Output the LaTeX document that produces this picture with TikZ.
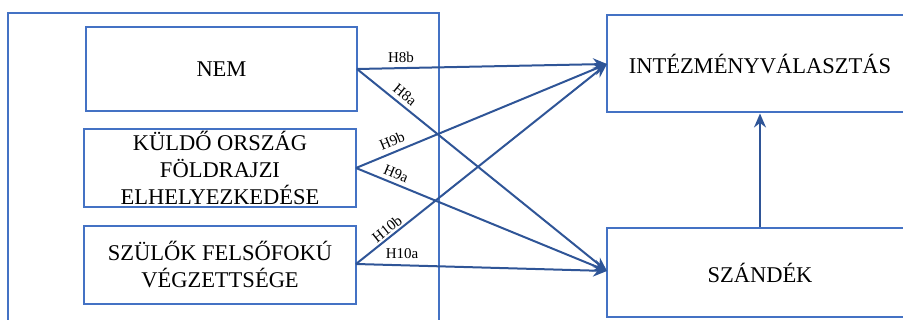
\documentclass[tikz,border=0pt]{standalone}
\usepackage{fontspec}
\setmainfont{Liberation Serif}
\usetikzlibrary{arrows.meta}
\definecolor{boxblue}{HTML}{4472C4}
\definecolor{arrblue}{HTML}{2F5597}
\begin{document}
\begin{tikzpicture}[x=1pt,y=-1pt,
  box/.style={draw=boxblue,line width=2pt,inner sep=0pt,align=center,font=\fontsize{22.5}{27}\selectfont},
  arr/.style={draw=arrblue,line width=2pt,-{Stealth[length=14pt,width=12pt]}},
  lab/.style={font=\fontsize{15}{16}\selectfont,inner sep=0pt}]
\useasboundingbox (0,0) rectangle (903,320);
\clip (0,0) rectangle (903,320);
\draw[draw=boxblue,line width=2pt] (8,330) -- (8,13) -- (439,13) -- (439,330);
\node[box,minimum width=271pt,minimum height=84pt] (nem) at (221.5,69) {NEM};
\node[box,minimum width=272pt,minimum height=78pt] (kuldo) at (220,168) {KÜLDŐ ORSZÁG\\FÖLDRAJZI\\ELHELYEZKEDÉSE};
\node[box,minimum width=272pt,minimum height=78pt] (szulo) at (220,265) {SZÜLŐK FELSŐFOKÚ\\VÉGZETTSÉGE};
\node[box,minimum width=306pt,minimum height=97pt] (intez) at (760,64) {INTÉZMÉNYVÁLASZTÁS};
\node[box,minimum width=306pt,minimum height=89pt] (szand) at (760,273) {SZÁNDÉK};
\coordinate (t1) at (607,64);
\coordinate (t2) at (607,271);
\coordinate (s1) at (357,69);
\coordinate (s2) at (356,168);
\coordinate (s3) at (356,264);
\draw[arr] (s1) -- (t1);
\draw[arr] (s1) -- (t2);
\draw[arr] (s2) -- (t1);
\draw[arr] (s2) -- (t2);
\draw[arr] (s3) -- (t1);
\draw[arr] (s3) -- (t2);
\draw[arr] (szand.north) -- (intez.south);
\node[lab] (h8b) at (401,57) {H8b};
\node[lab,rotate=-39.5] (h8a) at (405,95) {H8a};
\node[lab,rotate=22.5] (h9b) at (392,141) {H9b};
\node[lab,rotate=-22.5] (h9a) at (396,174) {H9a};
\node[lab,rotate=38.5] (h10b) at (387,229) {H10b};
\node[lab] (h10a) at (402,254) {H10a};
\end{tikzpicture}
\end{document}
